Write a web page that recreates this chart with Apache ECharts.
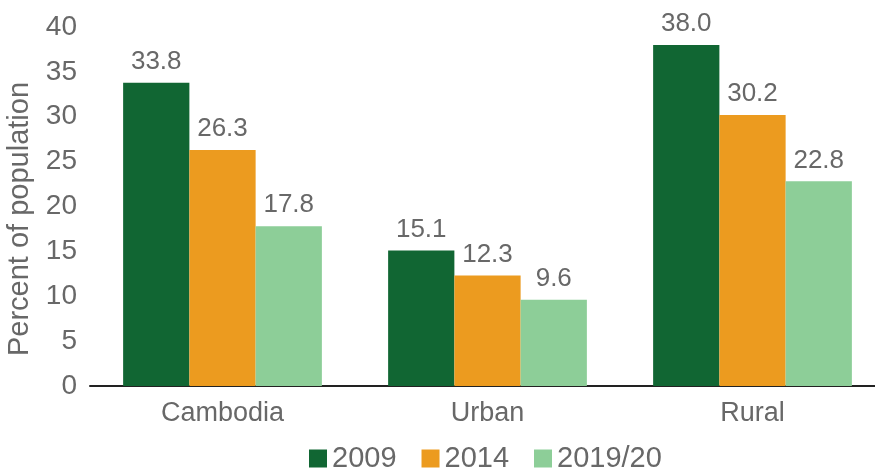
<!DOCTYPE html>
<html>
<head>
<meta charset="utf-8">
<script src="https://cdn.jsdelivr.net/npm/echarts@6/dist/echarts.min.js"></script>
<style>
html,body{margin:0;padding:0;background:#fff;}
#chart{width:875px;height:468px;}
</style>
</head>
<body>
<div id="chart"></div>
<script>
const categories = ['Cambodia', 'Urban', 'Rural'];
const seriesNames = ['2009', '2014', '2019/20'];
const values2009 = [33.8, 15.1, 38.0];
const values2014 = [26.3, 12.3, 30.2];
const values2019 = [17.8, 9.6, 22.8];
const colors = ['#116633', '#EC9B1F', '#8DCE98'];
const yAxisName = 'Percent of population';

const font = 'Liberation Sans, Arial, Helvetica, sans-serif';
const textColor = '#686868';

const chart = echarts.init(document.getElementById('chart'), null, {renderer: 'canvas'});
const mk = (name, data, color) => ({
  name: name,
  type: 'bar',
  data: data,
  barGap: '0%',
  barCategoryGap: '25%',
  itemStyle: {color: color},
  label: {
    show: true,
    position: 'top',
    distance: 8,
    formatter: p => p.value.toFixed(1),
    fontFamily: font,
    fontSize: 26,
    color: textColor
  },
  emphasis: {disabled: true}
});

chart.setOption({
  animation: false,
  backgroundColor: '#ffffff',
  color: colors,
  grid: {left: 90, width: 795, top: 27, bottom: 82, containLabel: false, outerBoundsMode: 'none'},
  legend: {
    bottom: -5,
    left: 309,
    padding: 0,
    itemWidth: 18,
    itemHeight: 18,
    itemGap: 25,
    icon: 'rect',
    textStyle: {fontFamily: font, fontSize: 29, color: textColor},
    data: seriesNames
  },
  xAxis: {
    type: 'category',
    data: categories,
    axisLine: {lineStyle: {color: '#222222', width: 2}},
    axisTick: {show: false},
    axisLabel: {fontFamily: font, fontSize: 27, color: textColor, margin: 14}
  },
  yAxis: {
    type: 'value',
    min: 0,
    max: 40,
    interval: 5,
    name: yAxisName,
    nameLocation: 'middle',
    nameGap: 56,
    nameTextStyle: {fontFamily: font, fontSize: 29, color: textColor, padding: [0, 25, 0, 0]},
    axisLine: {show: false},
    axisTick: {show: false},
    splitLine: {show: false},
    axisLabel: {fontFamily: font, fontSize: 28, color: textColor, margin: 13}
  },
  series: [
    mk(seriesNames[0], values2009, colors[0]),
    mk(seriesNames[1], values2014, colors[1]),
    mk(seriesNames[2], values2019, colors[2])
  ]
});
</script>
</body>
</html>
